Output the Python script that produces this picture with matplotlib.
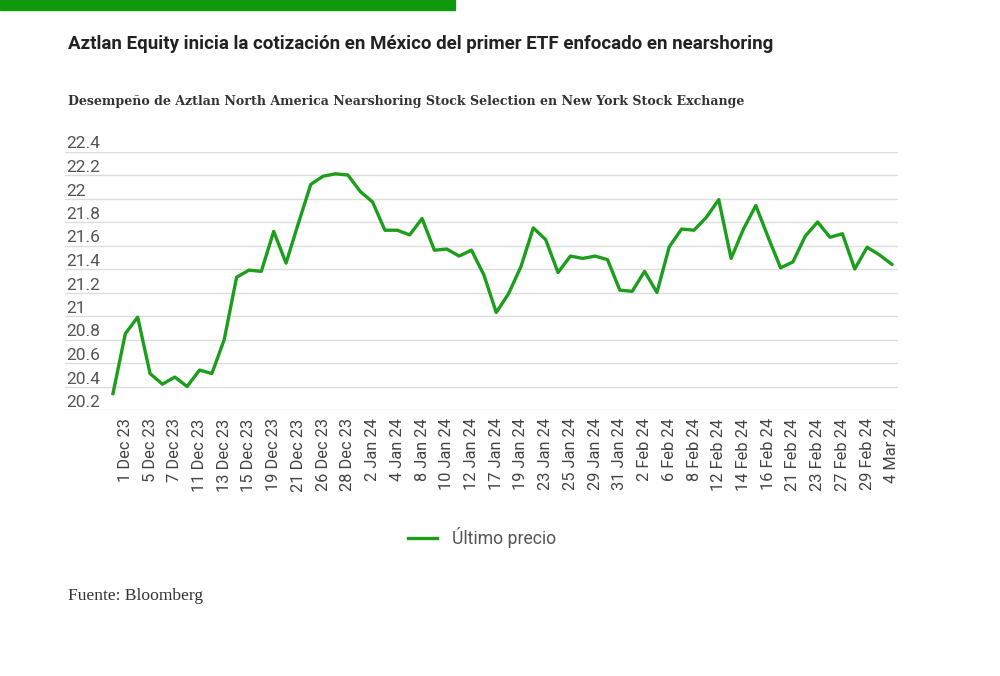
import matplotlib.pyplot as plt
from matplotlib.patches import Rectangle

# Fechas (días hábiles NYSE); la primera no lleva etiqueta
fechas = ['30 Nov 23',
          '1 Dec 23', '4 Dec 23', '5 Dec 23', '6 Dec 23', '7 Dec 23', '8 Dec 23',
          '11 Dec 23', '12 Dec 23', '13 Dec 23', '14 Dec 23', '15 Dec 23',
          '18 Dec 23', '19 Dec 23', '20 Dec 23', '21 Dec 23', '22 Dec 23',
          '26 Dec 23', '27 Dec 23', '28 Dec 23', '29 Dec 23',
          '2 Jan 24', '3 Jan 24', '4 Jan 24', '5 Jan 24', '8 Jan 24', '9 Jan 24',
          '10 Jan 24', '11 Jan 24', '12 Jan 24', '16 Jan 24', '17 Jan 24',
          '18 Jan 24', '19 Jan 24', '22 Jan 24', '23 Jan 24', '24 Jan 24',
          '25 Jan 24', '26 Jan 24', '29 Jan 24', '30 Jan 24', '31 Jan 24',
          '1 Feb 24', '2 Feb 24', '5 Feb 24', '6 Feb 24', '7 Feb 24', '8 Feb 24',
          '9 Feb 24', '12 Feb 24', '13 Feb 24', '14 Feb 24', '15 Feb 24',
          '16 Feb 24', '20 Feb 24', '21 Feb 24', '22 Feb 24', '23 Feb 24',
          '26 Feb 24', '27 Feb 24', '28 Feb 24', '29 Feb 24', '1 Mar 24', '4 Mar 24']

precio = [20.34, 20.85, 20.99, 20.51, 20.42, 20.48, 20.40, 20.54, 20.51, 20.80,
          21.33, 21.39, 21.38, 21.72, 21.45, 21.79, 22.12, 22.19, 22.21, 22.20,
          22.06, 21.97, 21.73, 21.73, 21.69, 21.83, 21.56, 21.57, 21.51, 21.56,
          21.35, 21.03, 21.19, 21.42, 21.75, 21.65, 21.37, 21.51, 21.49, 21.51,
          21.48, 21.22, 21.21, 21.38, 21.20, 21.59, 21.74, 21.73, 21.84, 21.99,
          21.49, 21.74, 21.94, 21.67, 21.41, 21.46, 21.68, 21.80, 21.67, 21.70,
          21.40, 21.585, 21.52, 21.44]

yticks = [20.2, 20.4, 20.6, 20.8, 21, 21.2, 21.4, 21.6, 21.8, 22, 22.2, 22.4]
ytick_labels = ['20.2', '20.4', '20.6', '20.8', '21', '21.2', '21.4', '21.6',
                '21.8', '22', '22.2', '22.4']

verde = '#1c9e1c'
W, H = 1000, 676

fig = plt.figure(figsize=(W / 100, H / 100), dpi=100)
ax = fig.add_axes([65 / W, 1 - 410 / H, (898 - 65) / W, (410 - 151.5) / H])

x = list(range(len(precio)))
ax.plot(x, precio, color=verde, lw=2.4, solid_joinstyle='round', label='Último precio')

ax.set_xlim(-3.88, 63.5)
ax.set_ylim(20.2, 22.4)
ax.set_yticks(yticks)
ax.set_yticklabels(ytick_labels, fontfamily='Roboto', fontsize=12.5, color='#555555',
                   ha='left', va='bottom')
ax.tick_params(axis='y', length=0, pad=-1)
ax.set_xticks(x[1::2])
ax.set_xticklabels(fechas[1::2], rotation=90, fontfamily='Roboto', fontsize=11.8,
                   color='#444444')
ax.tick_params(axis='x', length=0, pad=6)
ax.grid(axis='y', color='#dddddd', lw=1)
ax.set_axisbelow(True)
for s in ax.spines.values():
    s.set_visible(False)

# barra verde superior
fig.patches.append(Rectangle((0, 1 - 10 / H), 455 / W, 10 / H, transform=fig.transFigure,
                             color='#129a0e', zorder=5))

fig.text(68 / W, 1 - 44 / H,
         'Aztlan Equity inicia la cotización en México del primer ETF enfocado en nearshoring',
         fontfamily='Roboto', fontweight='bold', fontsize=13.5, color='#222222', va='center')
fig.text(68 / W, 1 - 101 / H,
         'Desempeño de Aztlan North America Nearshoring Stock Selection en New York Stock Exchange',
         fontfamily='DejaVu Serif', fontweight='bold', fontsize=9.1, color='#333333', va='center')
fig.text(68 / W, 1 - 596 / H, 'Fuente: Bloomberg', fontfamily='Liberation Serif',
         fontsize=12.6, color='#333333', va='center')

fig.legend(loc='center', bbox_to_anchor=(482 / W, 1 - 538 / H), frameon=False,
           prop={'family': 'Roboto', 'size': 12.7}, labelcolor='#555555',
           handlelength=1.65, handletextpad=0.8)

fig.savefig('out.png', dpi=100, facecolor='white')
